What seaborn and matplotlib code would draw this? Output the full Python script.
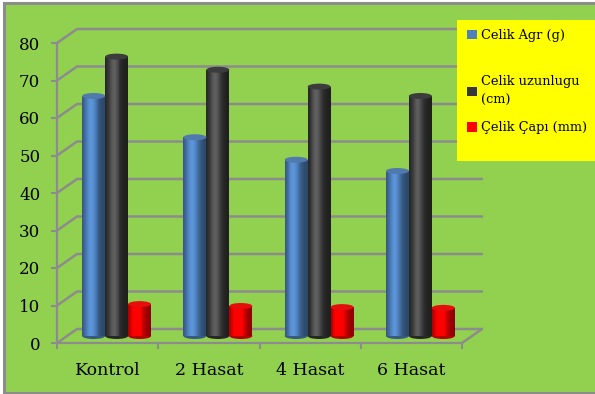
import numpy as np
import pandas as pd
import matplotlib
matplotlib.use("Agg")
import matplotlib.pyplot as plt
import matplotlib.colors as mcolors
from matplotlib.patches import Rectangle, Ellipse
from matplotlib.lines import Line2D
from matplotlib.transforms import ScaledTranslation
import seaborn as sns

categories = ["Kontrol", "2 Hasat", "4 Hasat", "6 Hasat"]
series_names = ["Celik Agr (g)", "Celik uzunlugu\n(cm)", "Çelik Çapı (mm)"]
agirlik = [64, 53, 47, 44]
uzunluk = [74.5, 71, 66.5, 64]
cap = [8.5, 8, 7.7, 7.5]
y_ticks = [0, 10, 20, 30, 40, 50, 60, 70, 80]
colors = ["#4F81BD", "#383838", "#FF0000"]

df = pd.DataFrame({
    "Kategori": categories * 3,
    "Seri": [series_names[0]] * 4 + [series_names[1]] * 4 + [series_names[2]] * 4,
    "Deger": agirlik + uzunluk + cap,
})

sns.set_theme(style="white")
plt.rcParams["font.family"] = ["DejaVu Serif"]
plt.rcParams["text.color"] = "black"
plt.rcParams["xtick.color"] = "black"
plt.rcParams["ytick.color"] = "black"

W, H, DPI = 595, 394, 100
fig = plt.figure(figsize=(W / DPI, H / DPI), dpi=DPI, facecolor="white")
GREEN = "#92D050"
GRAY = "#8C8C8C"
fig.patches.append(Rectangle((4 / W, 1 / H), 1.2, 390 / H, transform=fig.transFigure,
                             facecolor=GREEN, edgecolor=GRAY, linewidth=2.2, zorder=-5))

ax_l, ax_r, ax_b, ax_t = 57, 462, 343, 43
ax = fig.add_axes([ax_l / W, 1 - ax_b / H, (ax_r - ax_l) / W, (ax_b - ax_t) / H])
ax.set_facecolor("none")
ax.set_zorder(2)

sns.barplot(data=df, x="Kategori", y="Deger", hue="Seri", palette=colors,
            width=0.68, ax=ax, saturation=1, edgecolor="none", linewidth=0)

ax.set_xlim(-0.5, 3.5)
ax.set_ylim(0, 80)
ax.set_yticks(y_ticks)
ax.set_yticklabels([str(v) for v in y_ticks], fontsize=12)
ax.set_xlabel("")
ax.set_ylabel("")
ax.tick_params(axis="y", length=4, width=1.5, color=GRAY, pad=8, left=True, labelcolor="black")
ax.set_xticks([-0.5, 0.5, 1.5, 2.5, 3.5], minor=False)
ax.set_xticklabels([])
ax.tick_params(axis="x", which="major", length=4, width=1.5, color=GRAY, bottom=True)
ax.set_xticks([0, 1, 2, 3], minor=True)
ax.set_xticklabels(categories, minor=True, fontsize=12.5)
ax.tick_params(axis="x", which="minor", length=0, pad=14, labelcolor="black")
for s in ["top", "right"]:
    ax.spines[s].set_visible(False)
for s in ["left", "bottom"]:
    ax.spines[s].set_color(GRAY)
    ax.spines[s].set_linewidth(1.6)

# 3D-ish walls
px_x = (ax_r - ax_l) / 4.0
px_y = (ax_b - ax_t) / 80.0
dx = 20 / px_x
dy = 14 / px_y
for v in y_ticks:
    ax.add_line(Line2D([-0.5, -0.5 + dx, 3.5 + dx], [v, v + dy, v + dy], color=GRAY,
                       lw=1.8, clip_on=False, zorder=0.5))
ax.add_line(Line2D([3.5, 3.5 + dx], [0, dy], color=GRAY, lw=1.8, clip_on=False, zorder=0.5))

# cylinders: shift bars to mid depth and shade
shift = ax.transData + ScaledTranslation(9 / DPI, 7 / DPI, fig.dpi_scale_trans)
if ax.get_legend() is not None:
    ax.get_legend().remove()

bars = [p for p in ax.patches if isinstance(p, Rectangle) and p.get_height() > 0]
ell_h = 6 / px_y
nstrip = 24
for p in bars:
    x0, w, h = p.get_x(), p.get_width(), p.get_height()
    base = np.array(mcolors.to_rgb(p.get_facecolor()))
    p.set_visible(False)
    for i in range(nstrip):
        t = (i + 0.5) / nstrip
        shade = 0.55 + 0.6 * np.exp(-((t - 0.38) / 0.3) ** 2)
        c = np.clip(base * shade + (0.12 if base.max() < 0.3 else 0) * np.exp(-((t - 0.38) / 0.2) ** 2), 0, 1)
        ax.add_patch(Rectangle((x0 + w * i / nstrip, 0), w / nstrip * 1.05, h, transform=shift,
                               facecolor=c, edgecolor="none", clip_on=False, zorder=2))
    ax.add_patch(Ellipse((x0 + w / 2, 0), w, ell_h, transform=shift,
                         facecolor=np.clip(base * 0.7, 0, 1), edgecolor="none", clip_on=False, zorder=1.9))
    ax.add_patch(Ellipse((x0 + w / 2, h), w, ell_h, transform=shift,
                         facecolor=np.clip(base * 0.85 + 0.05, 0, 1), edgecolor="none", clip_on=False, zorder=2.1))

# legend
fig.patches.append(Rectangle((457 / W, 1 - 161 / H), 140 / W, 141 / H, transform=fig.transFigure,
                             facecolor="#FFFF00", edgecolor="none", zorder=3))
handles = [Rectangle((0, 0), 1, 1, facecolor=c, edgecolor="none") for c in colors]
leg_kw = dict(loc="upper left", frameon=False, fontsize=9.3, handlelength=0.75,
              handleheight=0.75, handletextpad=0.3, borderpad=0, borderaxespad=0,
              labelcolor="black")
leg1 = fig.legend(handles[:1], series_names[:1], bbox_to_anchor=(467 / W, 1 - 29 / H), **leg_kw)
leg2 = fig.legend(handles[1:], series_names[1:], bbox_to_anchor=(467 / W, 1 - 75 / H),
                  labelspacing=1.1, **leg_kw)
leg2.get_texts()[0].set_linespacing(1.62)
leg1.set_zorder(5)
leg2.set_zorder(5)

fig.savefig("out.png", dpi=DPI, facecolor="white")
